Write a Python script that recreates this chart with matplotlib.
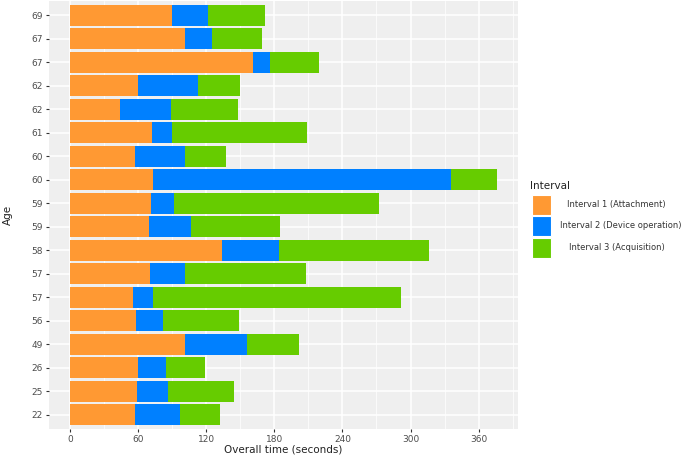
import matplotlib.pyplot as plt
from matplotlib.patches import Rectangle
import numpy as np

# rows listed top to bottom
ages = ["69", "67", "67", "62", "62", "61", "60", "60", "59",
        "59", "58", "57", "57", "56", "49", "26", "25", "22"]
attachment = [90, 101, 161, 60, 44, 72, 57, 73, 71,
              69, 134, 70, 55, 58, 101, 60, 59, 57]
device_op = [31, 24, 15, 53, 45, 18, 44, 263, 20,
             37, 50, 31, 18, 24, 55, 24, 27, 40]
acquisition = [51, 44, 43, 37, 59, 119, 36, 40, 181,
               79, 132, 107, 219, 67, 46, 35, 58, 35]

labels = ["Interval 1 (Attachment)", "Interval 2 (Device operation)", "Interval 3 (Acquisition)"]
colors = ["#FF9933", "#0080FF", "#66CC00"]

W, H = 685, 455
fig = plt.figure(figsize=(W / 100, H / 100), dpi=100)
ax = fig.add_axes([49 / W, (H - 429) / H, (518 - 49) / W, 428 / H])
ax.set_facecolor("#EFEFEF")

y = np.arange(len(ages))[::-1] + 1
left = np.zeros(len(ages))
for vals, c in zip([attachment, device_op, acquisition], colors):
    ax.barh(y, vals, left=left, height=0.9, color=c, zorder=3)
    left += np.array(vals)

xmax = left.max()
ax.set_xlim(-0.05 * xmax, 1.05 * xmax)
ax.set_ylim(0.4, len(ages) + 0.6)

ax.set_xticks(np.arange(0, 361, 60))
ax.set_xticks(np.arange(30, 391, 60), minor=True)
ax.set_yticks(y)
ax.set_yticklabels(ages)
ax.grid(which="major", color="white", linewidth=1.1, zorder=0)
ax.grid(which="minor", axis="x", color="white", linewidth=0.5, zorder=0)
ax.set_axisbelow(True)
for s in ax.spines.values():
    s.set_visible(False)
ax.tick_params(which="major", length=2.5, width=0.8, color="#333333",
               labelsize=6.5, labelcolor="#4D4D4D", pad=2)
ax.tick_params(which="minor", length=0)

ax.set_xlabel("Overall time (seconds)", fontsize=7.5, color="#222222", labelpad=0)
ax.set_ylabel("Age", fontsize=7.5, color="#222222", labelpad=13)

# legend drawn by hand to match the reference's label placement
fig.text(530 / W, 1 - 186 / H, "Interval", fontsize=7.5, color="#222222", va="center")
key_tops = [195, 216, 238]
label_x = [567, 560, 569]
for top, lx, c, lab in zip(key_tops, label_x, colors, labels):
    fig.add_artist(Rectangle((532 / W, 1 - (top + 20) / H), 19 / W, 20 / H,
                             transform=fig.transFigure, facecolor=c, edgecolor="white", lw=0.8))
    fig.text(lx / W, 1 - (top + 10) / H, lab, fontsize=6.0, color="#333333",
             ha="left", va="center")

fig.savefig("out.png", dpi=100)
